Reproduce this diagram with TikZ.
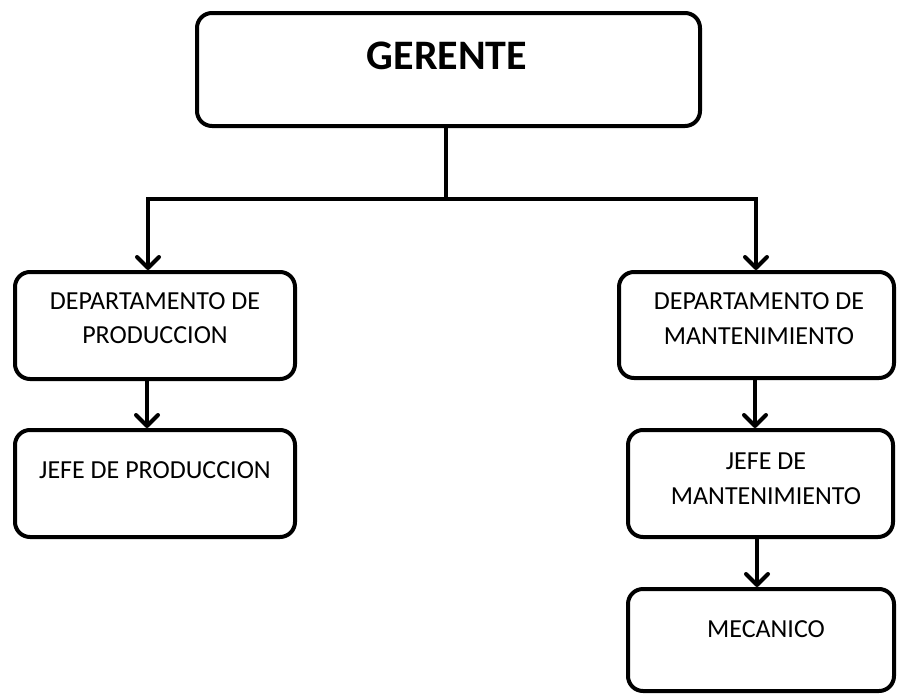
\documentclass[tikz,border=0pt]{standalone}
\usepackage{fontspec}
\setmainfont{Carlito}
\usetikzlibrary{arrows.meta}
\begin{document}
\begin{tikzpicture}[x=1pt,y=-1pt,
  box/.style={draw, line width=4pt, rounded corners=15pt, inner sep=0pt},
  lbl/.style={anchor=base, inner sep=0pt, font=\fontsize{26}{26}\selectfont},
  big/.style={anchor=base, inner sep=0pt, font=\fontsize{42}{42}\selectfont\bfseries},
  wire/.style={line width=4pt},
  conn/.style={line width=4pt, line cap=round, -{Straight Barb[length=11pt,width=22pt,line cap=round,line join=round]}}]
\useasboundingbox (0,0) rectangle (899,696);
% boxes
\node[box, minimum width=503pt, minimum height=113pt] (g) at (448.5,69.5) {};
\node[box, minimum width=280pt, minimum height=107pt] (dp) at (155,325.5) {};
\node[box, minimum width=280pt, minimum height=107pt] (jp) at (155,483.5) {};
\node[box, minimum width=275pt, minimum height=106pt] (dm) at (756.5,325) {};
\node[box, minimum width=265pt, minimum height=107pt] (jm) at (760.5,483.5) {};
\node[box, minimum width=266pt, minimum height=102pt] (me) at (761,640) {};
% texts
\node[big] (tg) at (447,69) {GERENTE};
\node[lbl] (tdp1) at (155,309) {DEPARTAMENTO DE};
\node[lbl] (tdp2) at (155,343) {PRODUCCION};
\node[lbl] (tjp) at (155,478) {JEFE DE PRODUCCION};
\node[lbl] (tdm1) at (759,309) {DEPARTAMENTO DE};
\node[lbl] (tdm2) at (759,344) {MANTENIMIENTO};
\node[lbl] (tjm1) at (766,469) {JEFE DE};
\node[lbl] (tjm2) at (766,504) {MANTENIMIENTO};
\node[lbl] (tme) at (766,637) {MECANICO};
% connectors
\coordinate (split) at (446,199);
\draw[wire] ([xshift=-2.5pt]g.south) -- (split);
\draw[conn] (split) -| ([xshift=-7pt]dp.north);
\draw[conn] (split) -| ([xshift=-0.5pt]dm.north);
\draw[conn] ([xshift=-8pt]dp.south) -- ([xshift=-8pt]jp.north);
\draw[conn] ([xshift=-1.5pt]dm.south) -- ([xshift=-5.5pt]jm.north);
\draw[conn] ([xshift=-3.5pt]jm.south) -- ([xshift=-4pt]me.north);
\end{tikzpicture}
\end{document}
